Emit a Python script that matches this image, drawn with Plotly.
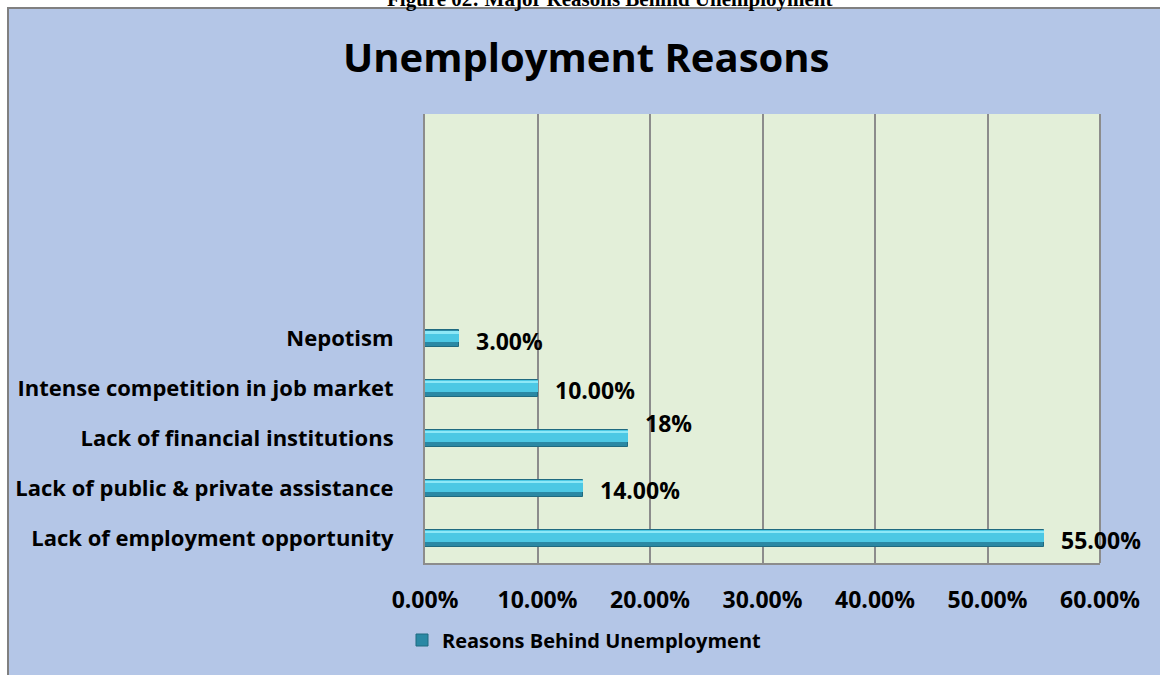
import plotly.graph_objects as go

# ---- data ----
categories = [
    "Lack of employment opportunity",
    "Lack of public & private assistance",
    "Lack of financial institutions",
    "Intense competition in job market",
    "Nepotism",
]
values = [0.55, 0.14, 0.18, 0.10, 0.03]
value_labels = ["55.00%", "14.00%", "18%", "10.00%", "3.00%"]
x_tick_vals = [0.0, 0.1, 0.2, 0.3, 0.4, 0.5, 0.6]
x_tick_text = ["0.00%", "10.00%", "20.00%", "30.00%", "40.00%", "50.00%", "60.00%"]
series_name = "Reasons Behind Unemployment"
chart_title = "Unemployment Reasons"
figure_caption = "Figure 02: Major Reasons Behind Unemployment"

W, H = 1160, 675
L, R, T, B = 425, 60, 114, 112
pw, ph = W - L - R, H - T - B


def px_x(px):
    return (px - L) / pw


def px_y(py):
    return (H - B - py) / ph


FONT = "Open Sans"

fig = go.Figure()

# base (dark) bar
fig.add_trace(go.Bar(
    y=categories, x=values, orientation="h", name=series_name,
    width=0.34, offset=-0.17,
    marker=dict(color="#2A88A4", line=dict(color="#1F6A80", width=1)),
    showlegend=True, hoverinfo="x+y",
))
# bright body
fig.add_trace(go.Bar(
    y=categories, x=values, orientation="h", name=series_name,
    width=0.23, offset=-0.07,
    marker=dict(color="#4CC8E4", line=dict(width=0)),
    showlegend=False, hoverinfo="skip",
))
# highlight
fig.add_trace(go.Bar(
    y=categories, x=values, orientation="h", name=series_name,
    width=0.05, offset=0.10,
    marker=dict(color="#8DE8F7", line=dict(width=0)),
    showlegend=False, hoverinfo="skip",
))

annotations = []
for i, (c, v, lab) in enumerate(zip(categories, values, value_labels)):
    ys = 15 if lab == "18%" else -2
    annotations.append(dict(
        x=v, y=c, xref="x", yref="y", text=lab, showarrow=False,
        xanchor="left", yanchor="middle", xshift=15, yshift=ys,
        font=dict(family=FONT, size=23, color="#000000", weight="bold"),
    ))

annotations.append(dict(
    x=px_x(586), y=px_y(56), xref="paper", yref="paper", text=chart_title,
    showarrow=False, xanchor="center", yanchor="middle",
    font=dict(family=FONT, size=40, color="#000000", weight="bold"),
))
annotations.append(dict(
    x=px_x(609), y=px_y(13), xref="paper", yref="paper", text=figure_caption,
    showarrow=False, xanchor="center", yanchor="bottom",
    font=dict(family="Liberation Serif", size=21, color="#000000", weight="bold"),
))

shapes = [
    dict(type="rect", xref="paper", yref="paper", layer="below",
         x0=px_x(8), x1=px_x(1162), y0=px_y(677), y1=px_y(8),
         fillcolor="#B4C6E7", line=dict(color="#808080", width=2)),
    dict(type="rect", xref="paper", yref="paper", layer="below",
         x0=0, x1=1, y0=0, y1=1,
         fillcolor="#E3EFD9", line=dict(width=0)),
    dict(type="line", xref="paper", yref="paper", layer="above",
         x0=1, x1=1, y0=0, y1=1, line=dict(color="#8C8C8C", width=2)),
]

fig.update_layout(
    width=W, height=H,
    margin=dict(l=L, r=R, t=T, b=B, pad=0),
    paper_bgcolor="#FFFFFF",
    plot_bgcolor="rgba(0,0,0,0)",
    barmode="overlay",
    bargap=0,
    showlegend=True,
    legend=dict(
        orientation="h", x=px_x(402), y=px_y(640), xanchor="left", yanchor="middle",
        bgcolor="rgba(0,0,0,0)",
        font=dict(family=FONT, size=20, color="#000000", weight="bold"),
    ),
    annotations=annotations,
    shapes=shapes,
    xaxis=dict(
        range=[0, 0.6], tickvals=x_tick_vals, ticktext=x_tick_text,
        showgrid=True, gridcolor="#8C8C8C", gridwidth=2,
        showline=True, linecolor="#8C8C8C", linewidth=2,
        zeroline=False, ticks="", ticklabelstandoff=15,
        tickfont=dict(family=FONT, size=23, color="#000000", weight="bold"),
        fixedrange=True,
    ),
    yaxis=dict(
        type="category", categoryorder="array", categoryarray=categories,
        range=[-0.5, 8.5],
        showgrid=False, showline=True, linecolor="#8C8C8C", linewidth=2,
        zeroline=False, ticks="", ticklabelstandoff=25,
        tickfont=dict(family=FONT, size=22, color="#000000", weight="bold"),
        fixedrange=True,
    ),
)

fig.write_html(
    "out.html",
    config={"displayModeBar": False},
    post_script="document.body.style.margin='0';document.body.style.overflow='hidden';",
)
